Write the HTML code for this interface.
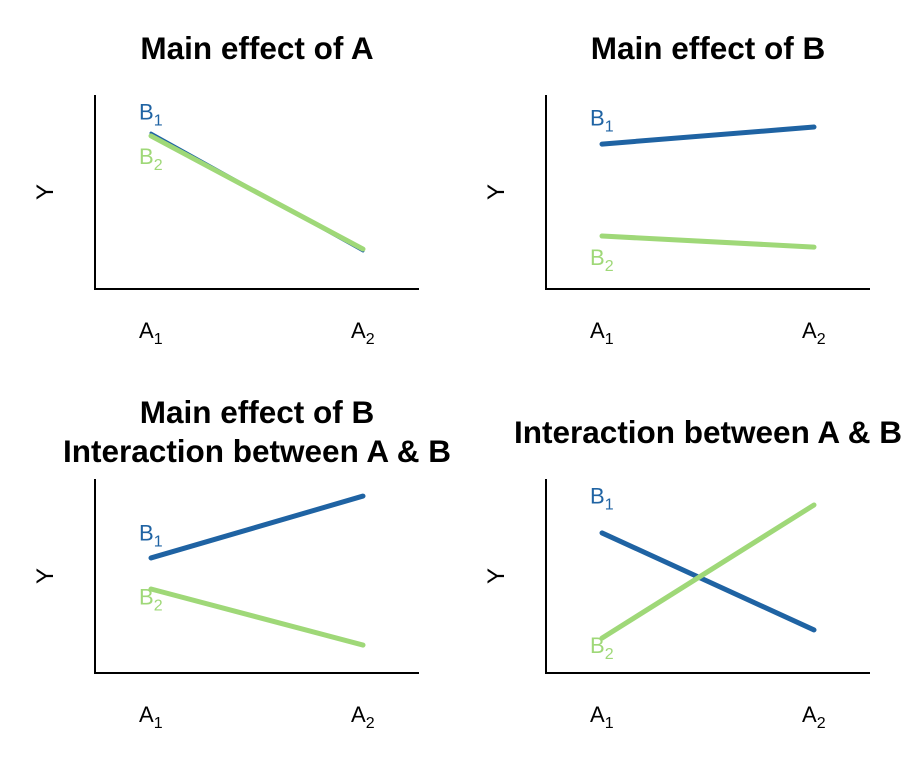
<!DOCTYPE html>
<html><head><meta charset="utf-8"><style>
body{margin:0;background:#fff}
svg{display:block;font-family:"Liberation Sans",sans-serif}
</style></head><body>
<svg id="c" width="902" height="768"></svg>
<script>
const panelTitles=[["Main effect of A"],["Main effect of B"],["Main effect of B","Interaction between A & B"],["Interaction between A & B"]];
const categories=["A1","A2"];
const seriesB1=[[8.04,1.96],[7.47,8.35],[5.93,9.12],[7.22,2.22]];
const seriesB2=[[7.89,2.06],[2.73,2.16],[4.33,1.44],[1.80,8.66]];
const b1LabelVal=[9.1,8.8,7.2,9.1];
const b2LabelVal=[6.8,1.6,3.9,1.4];
const NS="http://www.w3.org/2000/svg";
const svg=document.getElementById('c');
function mk(t,a,p){const e=document.createElementNS(NS,t);for(const k in a)e.setAttribute(k,a[k]);(p||svg).appendChild(e);return e;}
const origins=[[95,95],[546,95],[95,479],[546,479]];
const titleY=[[59],[59],[423,462],[443]];
const titleX=[257,708,257,708];
const H=194,W=324;
const defs=mk('defs',{});
const cp=mk('clipPath',{id:'clipL'},defs);mk('rect',{x:0,y:0,width:452,height:768},cp);
origins.forEach((o,i)=>{
  const g=mk('g',{});
  
  
  const x0=o[0],yTop=o[1],yBot=o[1]+H;
  const xs=c=>x0+56+c*212;
  const ys=v=>yBot-v/10*H;
  const tg=mk('g',i==2?{'clip-path':'url(#clipL)'}:{},g);
  panelTitles[i].forEach((t,j)=>{
    const e=mk('text',{x:titleX[i],y:titleY[i][j],'text-anchor':'middle','font-size':31.5,'font-weight':'bold',fill:'#000'},tg);
    e.textContent=t;
    
    
  });
  const ax=mk('path',{d:`M${x0},${yTop}V${yBot}H${x0+W}`,stroke:'#000','stroke-width':2,fill:'none'},g);
  
  
  const yl=mk('text',{x:0,y:0,transform:`translate(${x0-42},${yTop+97}) rotate(-90)`,'text-anchor':'middle','font-size':24,fill:'#000'},g);
  yl.textContent='Y';
  
  
  categories.forEach((c,k)=>{
    const t=mk('text',{x:xs(k)-12,y:yBot+49,'font-size':22,fill:'#000'},g);
    t.innerHTML=c[0]+'<tspan font-size="16" dy="6">'+c[1]+'</tspan>';
    
    
  });
  const l1=mk('line',{x1:xs(0),y1:ys(seriesB1[i][0]),x2:xs(1),y2:ys(seriesB1[i][1]),stroke:'#1f63a3','stroke-width':i==0?3:5,'stroke-linecap':'round'},g);
  
  
  const l2=mk('line',{x1:xs(0),y1:ys(seriesB2[i][0]),x2:xs(1),y2:ys(seriesB2[i][1]),stroke:'#9fd878','stroke-width':5,'stroke-linecap':'round'},g);
  
  
  [[b1LabelVal,'#1f63a3','1','label-b1'],[b2LabelVal,'#9fd878','2','label-b2']].forEach(s=>{
    const t=mk('text',{x:xs(0)-12,y:ys(s[0][i])+7,'font-size':22,fill:s[1]},g);
    t.innerHTML='B<tspan font-size="16" dy="6">'+s[2]+'</tspan>';
    
    
  });
});
</script>
</body></html>
